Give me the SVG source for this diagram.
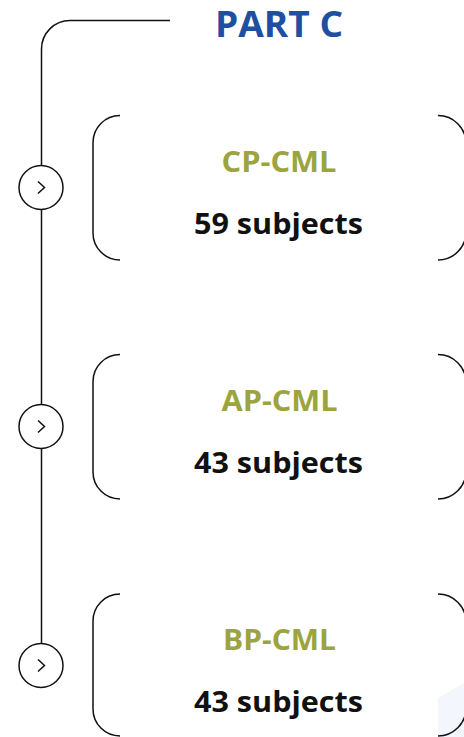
<svg xmlns="http://www.w3.org/2000/svg" width="464" height="737" viewBox="0 0 464 737">
<style>
.ln{fill:none;stroke:#111;stroke-width:1.5}
.br{fill:none;stroke:#111;stroke-width:1.5}
.ttl{font-family:"Open Sans","Noto Sans",sans-serif;font-weight:bold;font-size:29px;fill:#9BA43E;text-anchor:middle}
.sub{font-family:"Open Sans","Noto Sans",sans-serif;font-weight:bold;font-size:28px;fill:#111;text-anchor:middle}
.hd{font-family:"Open Sans","Noto Sans",sans-serif;font-weight:bold;font-size:36px;fill:#1E4FA0;text-anchor:middle}
.cir{fill:#fff;stroke:#111;stroke-width:1.5}
.chev{fill:none;stroke:#111;stroke-width:1.5;stroke-linejoin:miter}
</style>
<rect width="464" height="737" fill="#fff"/>
<path d="M438 698 Q452 690 464 683 L464 737 L438 737 Z" fill="#F3F6FC"/>
<g id="connectors">
<path class="ln" d="M170 20.5 H70 A28.5 28.5 0 0 0 41.5 49 V643"/>
</g>
<g id="header">
<text class="hd" x="279" y="37" textLength="128" lengthAdjust="spacingAndGlyphs">PART C</text>
</g>
<g id="marker1">
<circle class="cir" cx="41" cy="187.5" r="22"/>
<path class="chev" d="M38 181.5 L44.5 187.5 L38 193.5"/>
</g>
<g id="marker2">
<circle class="cir" cx="41" cy="426.5" r="22"/>
<path class="chev" d="M38 420.5 L44.5 426.5 L38 432.5"/>
</g>
<g id="marker3">
<circle class="cir" cx="41" cy="665.5" r="22"/>
<path class="chev" d="M38 659.5 L44.5 665.5 L38 671.5"/>
</g>
<g id="node1">
<path class="br" d="M120 115.5 A27 27 0 0 0 93 142.5 V233 A27 27 0 0 0 120 260"/>
<path class="br" d="M438 115.5 A28 28 0 0 1 466 143.5 V232 A28 28 0 0 1 438 260"/>
<text class="ttl" x="279" y="171.5" textLength="115" lengthAdjust="spacingAndGlyphs">CP-CML</text>
<text class="sub" x="278.5" y="234" textLength="169" lengthAdjust="spacingAndGlyphs">59 subjects</text>
</g>
<g id="node2">
<path class="br" d="M120 354.5 A27 27 0 0 0 93 381.5 V472 A27 27 0 0 0 120 499"/>
<path class="br" d="M438 354.5 A28 28 0 0 1 466 382.5 V471 A28 28 0 0 1 438 499"/>
<text class="ttl" x="279.5" y="410.5" textLength="116" lengthAdjust="spacingAndGlyphs">AP-CML</text>
<text class="sub" x="278.5" y="473" textLength="169" lengthAdjust="spacingAndGlyphs">43 subjects</text>
</g>
<g id="node3">
<path class="br" d="M120 594 A27 27 0 0 0 93 621 V709 A27 27 0 0 0 120 736"/>
<path class="br" d="M438 594 A28 28 0 0 1 466 622 V708 A28 28 0 0 1 438 736"/>
<text class="ttl" x="279.5" y="649.5" textLength="113" lengthAdjust="spacingAndGlyphs">BP-CML</text>
<text class="sub" x="278.5" y="712" textLength="169" lengthAdjust="spacingAndGlyphs">43 subjects</text>
</g>
</svg>
